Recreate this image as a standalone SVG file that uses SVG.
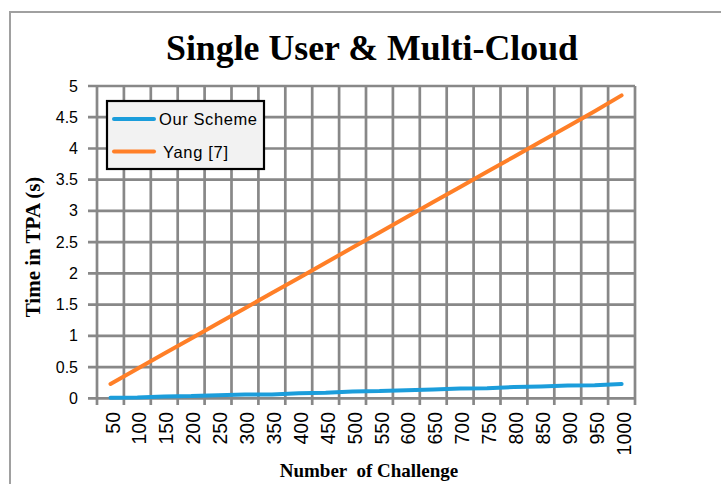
<svg xmlns="http://www.w3.org/2000/svg" width="721" height="484" viewBox="0 0 721 484">
<style>
.grid{stroke:#888888;stroke-width:2.7;fill:none}
.yl{font-family:"Liberation Sans",Arial,sans-serif;font-size:16px;fill:#000;text-anchor:end}
.xl{font-family:"Liberation Sans",Arial,sans-serif;font-size:19.5px;fill:#000;text-anchor:end}
.ttl{font-family:"Liberation Serif","Times New Roman",serif;font-weight:bold;fill:#000;text-anchor:middle}
.leg{font-family:"Liberation Sans",Arial,sans-serif;font-size:16.5px;fill:#000}
.ser{fill:none;stroke-width:4;stroke-linecap:round;stroke-linejoin:round}
</style>
<rect x="0" y="0" width="721" height="484" fill="#ffffff"/>
<rect x="10" y="12" width="740" height="500" fill="#ffffff" stroke="#a0a0a0" stroke-width="2"/>
<text class="ttl" x="372" y="60" font-size="35.8">Single User &amp; Multi-Cloud</text>
<g id="grid">
<path class="grid" d="M88 86H635M88 117.2H635M88 148.5H635M88 179.7H635M88 210.9H635M88 242.2H635M88 273.4H635M88 304.6H635M88 335.8H635M88 367.1H635M88 398.3H635"/>
<path class="grid" d="M97 86V405M123.9 86V405M150.8 86V405M177.7 86V405M204.6 86V405M231.5 86V405M258.4 86V405M285.3 86V405M312.2 86V405M339.1 86V405M366 86V405M392.9 86V405M419.8 86V405M446.7 86V405M473.6 86V405M500.5 86V405M527.4 86V405M554.3 86V405M581.2 86V405M608.1 86V405M635 86V405"/>
</g>
<g id="y-labels">
<text class="yl" x="78" y="91.5">5</text>
<text class="yl" x="78" y="122.7">4.5</text>
<text class="yl" x="78" y="154">4</text>
<text class="yl" x="78" y="185.2">3.5</text>
<text class="yl" x="78" y="216.4">3</text>
<text class="yl" x="78" y="247.7">2.5</text>
<text class="yl" x="78" y="278.9">2</text>
<text class="yl" x="78" y="310.1">1.5</text>
<text class="yl" x="78" y="341.3">1</text>
<text class="yl" x="78" y="372.6">0.5</text>
<text class="yl" x="78" y="403.8">0</text>
</g>
<g id="x-labels">
<text class="xl" transform="translate(119.5 412) rotate(-90)">50</text>
<text class="xl" transform="translate(146.4 412) rotate(-90)">100</text>
<text class="xl" transform="translate(173.3 412) rotate(-90)">150</text>
<text class="xl" transform="translate(200.2 412) rotate(-90)">200</text>
<text class="xl" transform="translate(227.1 412) rotate(-90)">250</text>
<text class="xl" transform="translate(254 412) rotate(-90)">300</text>
<text class="xl" transform="translate(280.9 412) rotate(-90)">350</text>
<text class="xl" transform="translate(307.8 412) rotate(-90)">400</text>
<text class="xl" transform="translate(334.7 412) rotate(-90)">450</text>
<text class="xl" transform="translate(361.6 412) rotate(-90)">500</text>
<text class="xl" transform="translate(388.5 412) rotate(-90)">550</text>
<text class="xl" transform="translate(415.4 412) rotate(-90)">600</text>
<text class="xl" transform="translate(442.3 412) rotate(-90)">650</text>
<text class="xl" transform="translate(469.2 412) rotate(-90)">700</text>
<text class="xl" transform="translate(496.1 412) rotate(-90)">750</text>
<text class="xl" transform="translate(523 412) rotate(-90)">800</text>
<text class="xl" transform="translate(549.9 412) rotate(-90)">850</text>
<text class="xl" transform="translate(576.8 412) rotate(-90)">900</text>
<text class="xl" transform="translate(603.7 412) rotate(-90)">950</text>
<text class="xl" transform="translate(630.6 412) rotate(-90)">1000</text>
</g>
<text class="ttl" font-size="21" transform="translate(40 247) rotate(-90)">Time in TPA (s)</text>
<text class="ttl" font-size="19" x="369" y="477" xml:space="preserve">Number  of Challenge</text>
<g id="connectors">
<polyline id="yang" class="ser" stroke="#ff7f27" points="110.5,383.9 137.4,368.8 164.3,353.6 191.2,338.5 218.1,323.3 245,308.2 271.9,293 298.8,277.9 325.7,262.7 352.6,247.6 379.5,232.4 406.4,217.3 433.3,202.1 460.2,187 487.1,171.8 514,156.7 540.9,141.5 567.8,126.4 594.7,111.2 621.6,95.4"/>
<polyline id="ours" class="ser" stroke="#1b9ddb" points="110.5,397.7 137.4,397.4 164.3,396.4 191.2,396.1 218.1,395.2 245,394.6 271.9,394.6 298.8,393.3 325.7,392.7 352.6,391.4 379.5,391.1 406.4,390.2 433.3,389.6 460.2,388.6 487.1,388.3 514,387.1 540.9,386.4 567.8,385.5 594.7,385.2 621.6,383.9"/>
</g>
<g id="legend">
<rect x="107" y="101" width="157" height="68" fill="#f2f2f2" stroke="#000" stroke-width="2.2"/>
<line x1="114" y1="119" x2="154" y2="119" stroke="#1b9ddb" stroke-width="4" stroke-linecap="round"/>
<text class="leg" x="159" y="125" textLength="98" lengthAdjust="spacing">Our Scheme</text>
<line x1="114" y1="151.5" x2="154" y2="151.5" stroke="#ff7f27" stroke-width="4" stroke-linecap="round"/>
<text class="leg" x="163" y="157.5" textLength="65" lengthAdjust="spacing">Yang [7]</text>
</g>
</svg>
